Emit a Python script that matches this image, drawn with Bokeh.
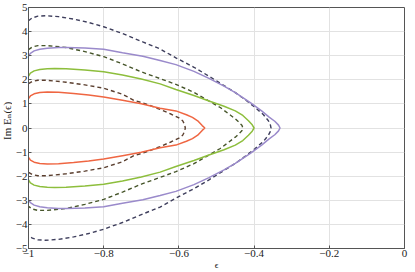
import math
from bokeh.plotting import figure
from bokeh.layouts import row
from bokeh.models import FixedTicker, CustomJSTickFormatter, Range1d
from bokeh.core.properties import value
from bokeh.embed import file_html
from bokeh.resources import INLINE

# ---- data (upper branch from eps=-1 to the tip, then lower branch) ----
x_orange = [-1.0, -0.995, -0.985, -0.97, -0.95, -0.92, -0.88, -0.84, -0.80, -0.75, -0.70, -0.65,
            -0.608, -0.58, -0.564, -0.55, -0.538, -0.531]
y_orange_up = [1.22, 1.33, 1.42, 1.47, 1.49, 1.48, 1.43, 1.37, 1.29, 1.15, 1.01, 0.82,
               0.71, 0.55, 0.44, 0.30, 0.10, 0.0]
y_orange_lo = [-1.22, -1.33, -1.42, -1.47, -1.49, -1.48, -1.43, -1.37, -1.29, -1.15, -1.01, -0.82,
               -0.71, -0.55, -0.44, -0.30, -0.10, 0.0]

x_green = [-1.0, -0.995, -0.985, -0.97, -0.95, -0.93, -0.90, -0.85, -0.80, -0.75, -0.70, -0.65,
           -0.608, -0.56, -0.52, -0.48, -0.45, -0.43, -0.415, -0.405, -0.40]
y_green_up = [2.15, 2.28, 2.37, 2.43, 2.46, 2.47, 2.46, 2.41, 2.33, 2.20, 2.03, 1.83,
              1.60, 1.35, 1.12, 0.90, 0.71, 0.52, 0.30, 0.13, 0.0]
y_green_lo = [-2.15, -2.28, -2.37, -2.43, -2.46, -2.47, -2.46, -2.41, -2.33, -2.20, -2.03, -1.83,
              -1.60, -1.35, -1.12, -0.90, -0.71, -0.52, -0.30, -0.13, 0.0]

x_purple = [-1.0, -0.995, -0.985, -0.97, -0.95, -0.92, -0.90, -0.85, -0.80, -0.75, -0.696, -0.65,
            -0.608, -0.56, -0.52, -0.48, -0.45, -0.41, -0.38, -0.36, -0.345, -0.335, -0.331]
y_purple_up = [2.98, 3.10, 3.20, 3.27, 3.31, 3.34, 3.34, 3.32, 3.27, 3.12, 2.98, 2.80,
               2.63, 2.35, 2.06, 1.74, 1.47, 1.05, 0.71, 0.45, 0.28, 0.12, 0.0]
y_purple_lo = [-2.98, -3.10, -3.20, -3.27, -3.31, -3.34, -3.34, -3.32, -3.27, -3.12, -2.98, -2.80,
               -2.63, -2.35, -2.06, -1.74, -1.47, -1.05, -0.71, -0.45, -0.28, -0.12, 0.0]

x_brown_d = [-1.0, -0.99, -0.975, -0.95, -0.90, -0.85, -0.80, -0.75, -0.72, -0.70, -0.674, -0.65,
             -0.62, -0.60, -0.59, -0.585, -0.583]
y_brown_d_up = [1.84, 1.93, 1.98, 1.98, 1.90, 1.79, 1.65, 1.40, 1.15, 1.06, 0.92, 0.77,
                0.57, 0.42, 0.30, 0.15, 0.0]
y_brown_d_lo = [-1.84, -1.93, -1.98, -1.98, -1.90, -1.79, -1.65, -1.40, -1.15, -1.06, -0.92, -0.77,
                -0.57, -0.42, -0.30, -0.15, 0.0]

x_olive_d = [-1.0, -0.99, -0.975, -0.95, -0.90, -0.85, -0.80, -0.75, -0.70, -0.65, -0.608, -0.56,
             -0.52, -0.49, -0.467, -0.45, -0.44, -0.432, -0.43]
y_olive_d_up = [3.25, 3.36, 3.42, 3.42, 3.34, 3.17, 2.96, 2.66, 2.33, 2.05, 1.81, 1.48,
                1.12, 0.85, 0.58, 0.38, 0.24, 0.10, 0.0]
y_olive_d_lo = [-3.25, -3.36, -3.42, -3.42, -3.34, -3.17, -2.96, -2.66, -2.33, -2.05, -1.81, -1.48,
                -1.12, -0.85, -0.58, -0.38, -0.24, -0.10, 0.0]

x_slate_d = [-1.0, -0.99, -0.975, -0.955, -0.92, -0.88, -0.84, -0.80, -0.75, -0.696, -0.65, -0.608,
             -0.56, -0.52, -0.48, -0.45, -0.42, -0.397, -0.375, -0.362, -0.357, -0.355]
y_slate_d_up = [4.45, 4.57, 4.64, 4.66, 4.62, 4.52, 4.38, 4.20, 3.92, 3.57, 3.28, 2.91,
                2.52, 2.15, 1.76, 1.47, 1.13, 0.85, 0.55, 0.30, 0.15, 0.0]
y_slate_d_lo = [-4.45, -4.57, -4.64, -4.66, -4.62, -4.52, -4.38, -4.20, -3.92, -3.57, -3.28, -2.91,
                -2.52, -2.15, -1.76, -1.47, -1.13, -0.85, -0.55, -0.30, -0.15, 0.0]

x_ticks = [-1.0, -0.8, -0.6, -0.4, -0.2, 0.0]
y_ticks = [-5, -4, -3, -2, -1, 0, 1, 2, 3, 4, 5]
x_label = "ϵ"
y_label = "Im Eₙ(ϵ)"

SERIF = "'Liberation Serif', 'DejaVu Serif', serif"

# narrow strip that carries the vertical axis title
lab = figure(width=12, height=272, output_backend="svg", toolbar_location=None,
             x_range=Range1d(0, 12), y_range=Range1d(0, 272),
             x_axis_type=None, y_axis_type=None, min_border=0)
lab.outline_line_color = None
lab.grid.visible = False
lab.background_fill_color = "white"
lab.border_fill_color = "white"
lab.text(x=[6.5], y=[144], text=[y_label], angle=math.pi / 2,
         text_align="center", text_baseline="middle",
         text_font=value(SERIF), text_font_size="11px", text_color="#222222")

p = figure(width=403, height=272, output_backend="svg", toolbar_location=None,
           x_range=Range1d(-1, 0), y_range=Range1d(-5, 5),
           min_border_left=13, min_border_bottom=0, min_border_top=7, min_border_right=11)
p.background_fill_color = "white"
p.border_fill_color = "white"
p.outline_line_color = "#555555"
p.outline_line_width = 1

fmt = CustomJSTickFormatter(code="""
const a = Math.round(Math.abs(tick) * 10) / 10;
return (tick < -1e-9 ? '\u2212' : '') + a.toString();
""")

p.xaxis.ticker = FixedTicker(ticks=x_ticks)
p.yaxis.ticker = FixedTicker(ticks=y_ticks)
p.xaxis.formatter = fmt
p.yaxis.formatter = fmt
p.xgrid.ticker = FixedTicker(ticks=x_ticks)
p.ygrid.ticker = FixedTicker(ticks=y_ticks)
p.grid.grid_line_color = "#e2e2e2"
p.grid.grid_line_width = 1

for ax in (p.xaxis, p.yaxis):
    ax.axis_line_color = "#555555"
    ax.major_tick_line_color = "#555555"
    ax.major_tick_in = 3
    ax.major_tick_out = 0
    ax.minor_tick_line_color = None
    ax.major_label_text_font = SERIF
    ax.major_label_text_font_size = "11px"
    ax.major_label_text_color = "#222222"
    ax.axis_label_text_font = SERIF
    ax.axis_label_text_font_style = "normal"
    ax.axis_label_text_color = "#222222"
    ax.axis_label_standoff = 0
    ax.major_label_standoff = 1

p.xaxis.axis_label_text_font_size = "9px"
p.xaxis.axis_label = x_label

def full(xs, yu, yl):
    return xs + xs[::-1], yu + yl[::-1]

solid = [(x_orange, y_orange_up, y_orange_lo, "#EF6642"),
         (x_green, y_green_up, y_green_lo, "#8DBE3C"),
         (x_purple, y_purple_up, y_purple_lo, "#9A8ACB")]
dashed = [(x_brown_d, y_brown_d_up, y_brown_d_lo, "#5A3E2E"),
          (x_olive_d, y_olive_d_up, y_olive_d_lo, "#46552A"),
          (x_slate_d, y_slate_d_up, y_slate_d_lo, "#3E3E5C")]

for xs, yu, yl, c in dashed:
    xx, yy = full(xs, yu, yl)
    p.line(xx, yy, line_color=c, line_width=1.4, line_dash="4 3")
for xs, yu, yl, c in solid:
    xx, yy = full(xs, yu, yl)
    p.line(xx, yy, line_color=c, line_width=1.5)

layout = row(lab, p, spacing=0)
open("out.html", "w").write(file_html(layout, INLINE))
